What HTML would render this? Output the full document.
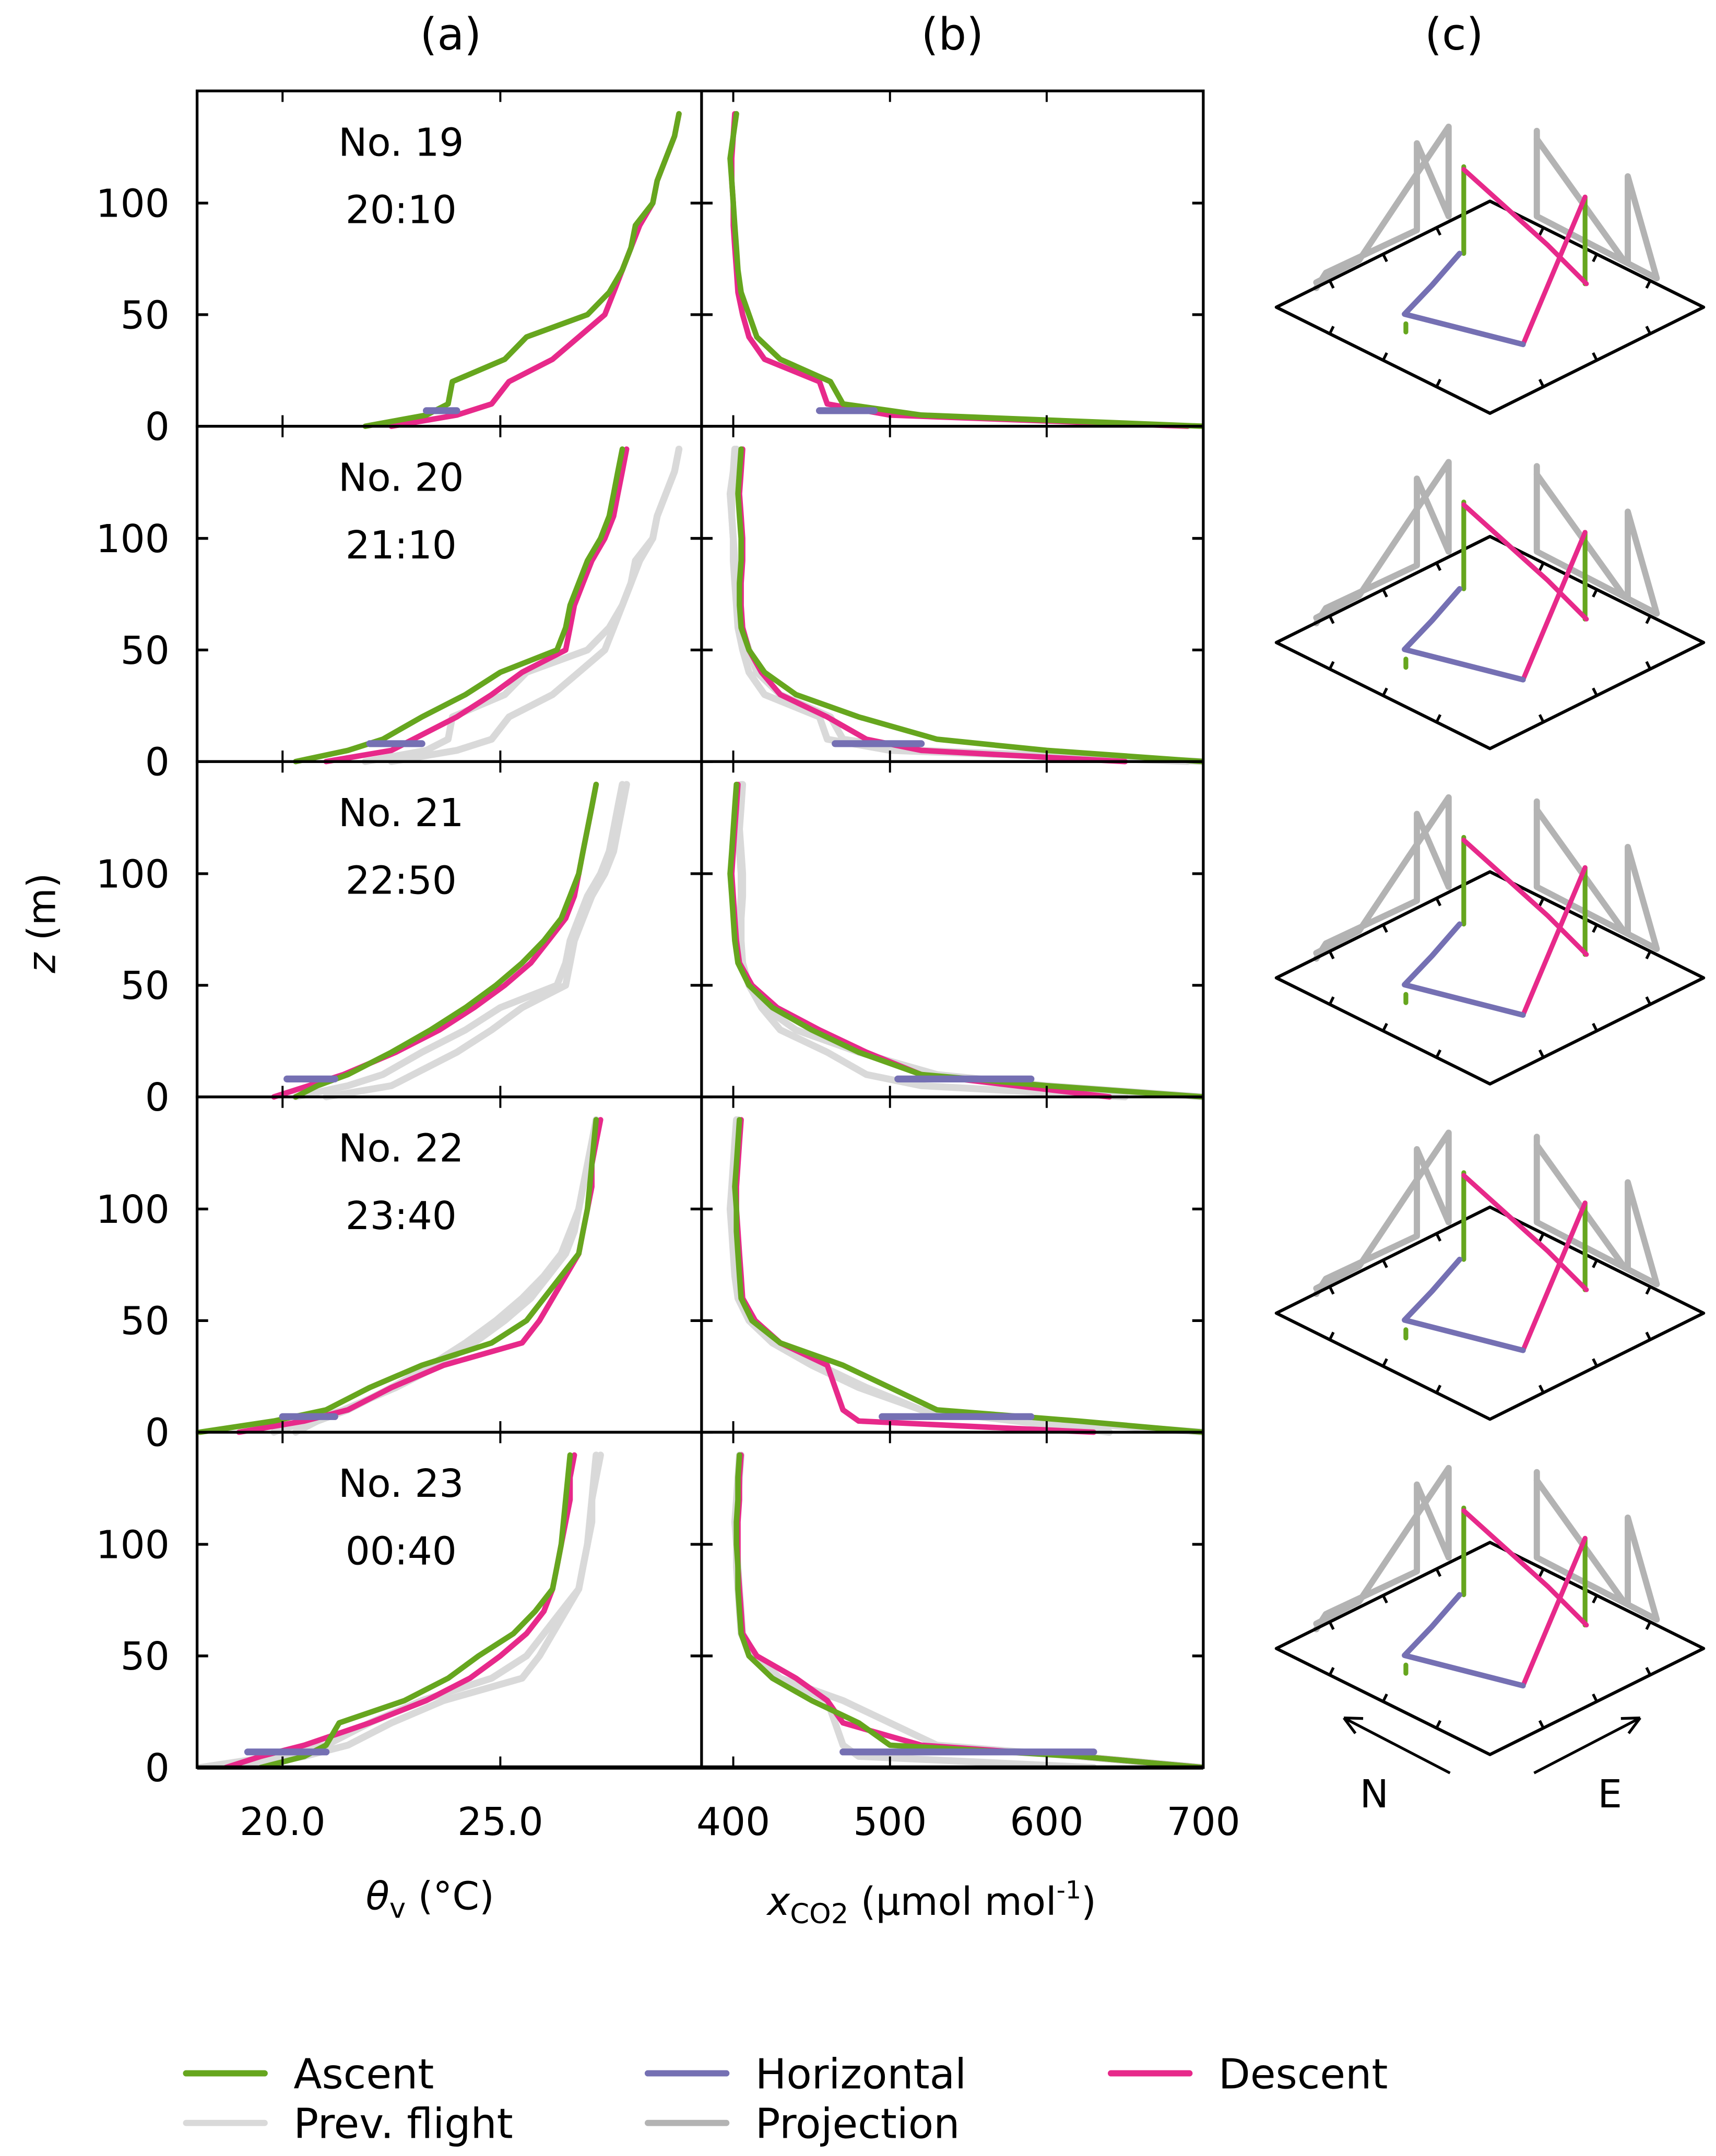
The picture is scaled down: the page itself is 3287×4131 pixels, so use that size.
<!DOCTYPE html>
<html><head><meta charset="utf-8"><style>
html,body{margin:0;padding:0;background:#fff}
svg{display:block}
text{font-family:"DejaVu Sans","Liberation Sans",sans-serif;fill:#000}
</style></head><body>
<svg id="fig" xmlns="http://www.w3.org/2000/svg" width="3287" height="4131" viewBox="0 0 1245 1565" preserveAspectRatio="none">
<g id="root"></g>
</svg>
<script>
const flights = ["No. 19","No. 20","No. 21","No. 22","No. 23"];
const times = ["20:10","21:10","22:50","23:40","00:40"];
const zLevels = [0,5,10,20,30,40,50,60,70,80,90,100,110,120,130,140];
const thetaAsc = [
 [21.9,23.3,23.8,23.9,25.1,25.6,27.0,27.5,27.8,28.0,28.1,28.5,28.6,28.8,29.0,29.1],
 [20.3,21.5,22.3,23.2,24.2,25.0,26.3,26.5,26.6,26.8,27.0,27.3,27.5,27.6,27.7,27.8],
 [20.3,20.8,21.5,22.5,23.4,24.2,24.9,25.5,26.0,26.4,26.6,26.8,26.9,27.0,27.1,27.2],
 [18.1,19.8,21.0,22.0,23.2,24.8,25.6,26.0,26.4,26.8,26.9,27.0,27.05,27.1,27.15,27.2],
 [19.5,20.5,21.0,21.3,22.8,23.8,24.5,25.3,25.8,26.2,26.3,26.4,26.45,26.5,26.55,26.6]];
const thetaDesc = [
 [22.5,24.0,24.8,25.2,26.2,26.8,27.4,27.6,27.8,28.0,28.2,28.5,28.6,28.8,29.0,29.1],
 [21.0,22.5,23.0,24.0,24.8,25.5,26.5,26.6,26.7,26.9,27.1,27.4,27.6,27.7,27.8,27.9],
 [19.8,20.6,21.4,22.6,23.6,24.4,25.1,25.7,26.1,26.5,26.7,26.8,26.9,27.0,27.1,27.2],
 [19.0,20.5,21.5,22.5,23.7,25.5,25.9,26.2,26.5,26.8,26.9,27.0,27.1,27.1,27.2,27.3],
 [18.7,19.5,20.5,22.0,23.3,24.3,25.0,25.6,26.0,26.2,26.3,26.4,26.5,26.6,26.6,26.7]];
const co2Asc = [
 [700,520,470,462,430,415,410,405,403,402,401,400,399,398,400,402],
 [700,600,530,480,440,420,410,405,404,404,405,405,404,403,404,405],
 [700,600,520,480,450,425,410,403,401,400,399,398,399,400,401,402],
 [700,620,530,500,470,430,412,405,404,403,402,402,401,402,403,404],
 [700,620,500,480,450,425,410,405,404,403,403,402,402,403,403,404]];
const co2Desc = [
 [690,500,460,455,420,410,406,403,402,401,400,400,399,399,400,401],
 [650,520,485,460,430,418,410,406,405,405,406,406,405,404,405,406],
 [640,580,520,485,455,428,412,404,402,401,400,399,400,401,402,403],
 [630,480,470,465,460,430,414,406,405,404,403,402,402,403,404,405],
 [700,620,520,470,460,440,415,406,405,404,403,403,403,404,404,405]];
const hZ = [7,8,8,7,7];
const hThetaLo = [23.3,22.0,20.1,20.0,19.2];
const hThetaHi = [24.0,23.2,21.2,21.2,21.0];
const hCo2Lo = [455,465,505,495,470];
const hCo2Hi = [490,520,590,590,630];
const zTicks = [0,50,100];
const thetaTicks = [20,25];
const thetaTickLabels = ["20.0","25.0"];
const co2Ticks = [400,500,600,700];

const NS="http://www.w3.org/2000/svg";
const root=document.getElementById('root');
function el(tag,attrs,parent){const e=document.createElementNS(NS,tag);for(const k in attrs)e.setAttribute(k,attrs[k]);(parent||root).appendChild(e);return e;}
const GREEN="#66a61e",PURPLE="#7570b3",PINK="#e7298a",LGRAY="#d9d9d9",GRAY="#b3b3b3";
const AX0=143,AX1=509,BX1=873,TOP=66,PH=243.4;
function xT(t){return 205+(t-20)*31.6;}
function xC(c){return 532+(c-400)*1.137;}
function yZ(i,z){return TOP+PH*(i+1)-z*1.62;}
function txt(s,x,y,size,anchor,name){const t=el('text',{x:x,y:y,'font-size':size,'text-anchor':anchor||'middle'});t.textContent=s;return t;}

const defs=el('defs',{});
const ca=el('clipPath',{id:'ca'},defs);el('rect',{x:AX0,y:TOP,width:AX1-AX0,height:PH*5},ca);
const cb=el('clipPath',{id:'cb'},defs);el('rect',{x:AX1,y:TOP,width:BX1-AX1,height:PH*5},cb);

txt("(a)",327,36,32,'middle','panel-a-label');
txt("(b)",691,36,32,'middle','panel-b-label');
txt("(c)",1055,36,32,'middle','panel-c-label');

function line(xs,ys,col,w,g,name){let d='';for(let k=0;k<xs.length;k++)d+=(k?'L':'M')+xs[k].toFixed(1)+' '+ys[k].toFixed(1);const p=el('path',{d:d,fill:'none',stroke:col,'stroke-width':w,'stroke-linejoin':'round','stroke-linecap':'round'},g);return p;}

for(let i=0;i<5;i++){
  const ga=el('g',{'clip-path':'url(#ca)'});
  const gb=el('g',{'clip-path':'url(#cb)'});
  const ys=zLevels.map(z=>yZ(i,z));
  if(i>0){
    line(thetaAsc[i-1].map(xT),ys,LGRAY,5,ga,'prev-flight-theta-ascent');
    line(thetaDesc[i-1].map(xT),ys,LGRAY,5,ga,'prev-flight-theta-descent');
    line(co2Asc[i-1].map(xC),ys,LGRAY,5,gb,'prev-flight-co2-ascent');
    line(co2Desc[i-1].map(xC),ys,LGRAY,5,gb,'prev-flight-co2-descent');
  }
  line(thetaDesc[i].map(xT),ys,PINK,4,ga,'theta-descent');
  line(thetaAsc[i].map(xT),ys,GREEN,4,ga,'theta-ascent');
  line([xT(hThetaLo[i]),xT(hThetaHi[i])],[yZ(i,hZ[i]),yZ(i,hZ[i])],PURPLE,5,ga,'theta-horizontal');
  line(co2Desc[i].map(xC),ys,PINK,4,gb,'co2-descent');
  line(co2Asc[i].map(xC),ys,GREEN,4,gb,'co2-ascent');
  line([xC(hCo2Lo[i]),xC(hCo2Hi[i])],[yZ(i,hZ[i]),yZ(i,hZ[i])],PURPLE,5,gb,'co2-horizontal');
  const top=TOP+PH*i,bot=TOP+PH*(i+1);
  const f=el('rect',{x:AX0,y:top,width:BX1-AX0,height:PH,fill:'none',stroke:'#000','stroke-width':2});
  
  el('line',{x1:AX1,y1:top,x2:AX1,y2:bot,stroke:'#000','stroke-width':2});
  zTicks.forEach(z=>{const y=yZ(i,z);
    el('line',{x1:AX0,y1:y,x2:AX0+8,y2:y,stroke:'#000','stroke-width':2});
    el('line',{x1:AX1-8,y1:y,x2:AX1+8,y2:y,stroke:'#000','stroke-width':2});
    el('line',{x1:BX1-8,y1:y,x2:BX1,y2:y,stroke:'#000','stroke-width':2});
    txt(String(z),123,y+10,28,'end','z-tick-label');});
  thetaTicks.forEach(t=>{el('line',{x1:xT(t),y1:top,x2:xT(t),y2:top+8,stroke:'#000','stroke-width':1.5});el('line',{x1:xT(t),y1:bot,x2:xT(t),y2:bot-8,stroke:'#000','stroke-width':1.5});});
  co2Ticks.forEach(c=>{el('line',{x1:xC(c),y1:top,x2:xC(c),y2:top+8,stroke:'#000','stroke-width':1.5});el('line',{x1:xC(c),y1:bot,x2:xC(c),y2:bot-8,stroke:'#000','stroke-width':1.5});});
  txt(flights[i],291,top+47,28,'middle','flight-number');
  txt(times[i],291,top+96,28,'middle','flight-time');
}
el('line',{x1:AX0,y1:TOP+PH*5,x2:BX1,y2:TOP+PH*5,stroke:'#000','stroke-width':3});
thetaTicks.forEach((t,k)=>txt(thetaTickLabels[k],xT(t),1332,28,'middle','theta-tick-label'));
co2Ticks.forEach(c=>txt(String(c),xC(c),1332,28,'middle','co2-tick-label'));
{const t=el('text',{x:312,y:1386,'font-size':28,'text-anchor':'middle'});
 t.innerHTML='<tspan font-style="italic">θ</tspan><tspan font-size="20" dy="6">v</tspan><tspan dy="-6"> (°C)</tspan>';}
{const t=el('text',{x:676,y:1390,'font-size':28,'text-anchor':'middle'});
 t.innerHTML='<tspan font-style="italic">x</tspan><tspan font-size="20" dy="6">CO2</tspan><tspan dy="-6"> (µmol mol</tspan><tspan font-size="18" dy="-12">-1</tspan><tspan dy="12">)</tspan>';}
{const t=el('text',{x:0,y:0,'font-size':28,'text-anchor':'middle',transform:'translate(40,670) rotate(-90)'});
 t.innerHTML='<tspan font-style="italic">z</tspan> (m)';}

const diam=[[-155,0],[0,-77],[155,0],[0,77]];
const gvert=[[[-19,-102],[-19,-39]],[[69,-80],[69,-17]],[[-61,12],[-61,18]]];
const pinkPath=[[-19,-100],[42,-45],[70,-17]];
const pink2=[[69,-80],[24,27]];
const purplePath=[[24,27],[-62,5],[-42,-16],[-22,-39]];
const grayL=[[-126,-14],[-119,-25],[-53,-56],[-53,-119],[-30,-66],[-30,-131],[-59,-88],[-95,-34],[-126,-18]];
const grayR=[[34,-128],[34,-66],[121,-21],[100,-95],[100,-33]];
const grayR2=[[34,-122],[97,-34]];
for(let i=0;i<5;i++){
  const cx=1081,cy=223+PH*i;
  const g=el('g',{});
  const P=a=>a.map(p=>[cx+p[0],cy+p[1]]);
  const L=(pts,c,w,n)=>{const q=P(pts);line(q.map(p=>p[0]),q.map(p=>p[1]),c,w,g,n);};
  L(grayL,GRAY,4.5,'projection-west');L(grayR,GRAY,4.5,'projection-east');L(grayR2,GRAY,4.5,'projection-east-diag');
  const dq=P(diam);const dp=el('path',{d:'M'+dq.map(p=>p.join(' ')).join('L')+'Z',fill:'none',stroke:'#000','stroke-width':2.3,'stroke-linejoin':'round'},g);
  
  for(let e=0;e<4;e++){const a=dq[e],b=dq[(e+1)%4];const dx=b[0]-a[0],dy=b[1]-a[1],len=Math.hypot(dx,dy);const nx=-dy/len,ny=dx/len;
    [0.25,0.5,0.75].forEach(f=>{const px=a[0]+dx*f,py=a[1]+dy*f;el('line',{x1:px,y1:py,x2:px+nx*6,y2:py+ny*6,stroke:'#000','stroke-width':2},g);});}
  gvert.forEach(v=>L(v,GREEN,3.5,'ascent-vertical'));
  L(pinkPath,PINK,3.5,'descent-path');L(pink2,PINK,3.5,'descent-path-2');
  L(purplePath,PURPLE,4,'horizontal-path');
}
function arrow(x1,y1,x2,y2,n){const a=el('line',{x1:x1,y1:y1,x2:x2,y2:y2,stroke:'#000','stroke-width':2});
  const ang=Math.atan2(y2-y1,x2-x1);[0.45,-0.45].forEach(d=>el('line',{x1:x2,y1:y2,x2:x2-14*Math.cos(ang+d),y2:y2-14*Math.sin(ang+d),stroke:'#000','stroke-width':2}));}
arrow(1052,1287,975,1247,'north-arrow');arrow(1113,1287,1190,1247,'east-arrow');
txt("N",997,1312,28,'middle','north-label');txt("E",1168,1312,28,'middle','east-label');

const leg=[["Ascent",GREEN,135,1505],["Horizontal",PURPLE,470,1505],["Descent",PINK,806,1505],["Prev. flight",LGRAY,135,1541],["Projection",GRAY,470,1541]];
leg.forEach(l=>{const g=el('g',{});
  el('line',{x1:l[2],y1:l[3],x2:l[2]+57,y2:l[3],stroke:l[1],'stroke-width':4.5,'stroke-linecap':'round'},g);
  const t=el('text',{x:l[2]+78,y:l[3]+11,'font-size':30},g);t.textContent=l[0];});
</script>
</body></html>
